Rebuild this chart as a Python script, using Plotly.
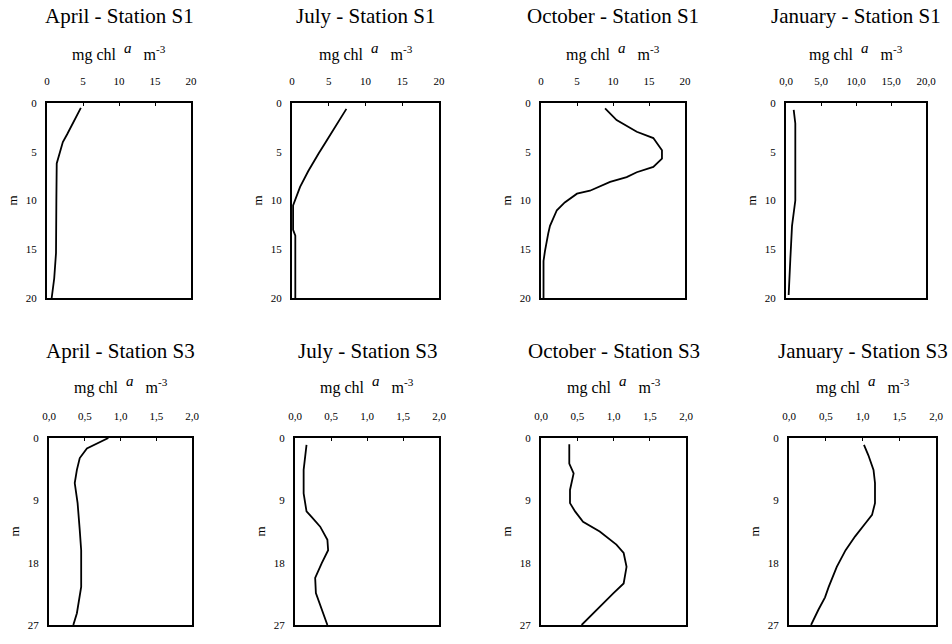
import plotly.graph_objects as go

# ---------------- data ----------------
titles = ["April - Station S1", "July - Station S1", "October - Station S1", "January - Station S1",
          "April - Station S3", "July - Station S3", "October - Station S3", "January - Station S3"]

depth_apr_s1 = [0.5, 2.0, 3.2, 4.0, 5.5, 6.2, 10.0, 15.4, 18.0, 20.0]
chl_apr_s1 = [4.7, 3.7, 2.8, 2.2, 1.6, 1.35, 1.3, 1.25, 1.0, 0.65]

depth_jul_s1 = [0.6, 2.0, 4.0, 5.2, 7.0, 8.6, 9.5, 10.5, 13.0, 13.6, 20.0]
chl_jul_s1 = [7.4, 6.2, 4.6, 3.6, 2.2, 1.1, 0.6, 0.15, 0.15, 0.45, 0.45]

depth_oct_s1 = [0.55, 1.75, 2.95, 3.6, 4.85, 5.7, 6.55, 7.1, 7.6, 8.1, 9.0, 9.3, 10.2, 11.0, 12.6, 13.4, 15.2, 16.2, 20.0]
chl_oct_s1 = [8.9, 10.5, 13.3, 15.6, 16.8, 16.8, 15.6, 13.3, 11.9, 9.6, 6.8, 5.0, 3.3, 2.2, 1.25, 1.0, 0.55, 0.35, 0.35]

depth_jan_s1 = [0.7, 2.1, 10.0, 12.6, 16.0, 19.7]
chl_jan_s1 = [1.1, 1.33, 1.33, 0.86, 0.62, 0.38]

depth_apr_s3 = [0.0, 0.4, 1.0, 1.5, 2.9, 4.6, 6.5, 9.4, 13.3, 16.2, 21.5, 25.3, 27.0]
chl_apr_s3 = [0.83, 0.75, 0.62, 0.53, 0.43, 0.39, 0.36, 0.40, 0.43, 0.45, 0.45, 0.39, 0.34]

depth_jul_s3 = [1.0, 2.7, 4.6, 8.0, 10.6, 11.4, 12.8, 14.7, 16.2, 18.1, 20.2, 22.4, 24.8, 27.0]
chl_jul_s3 = [0.16, 0.14, 0.12, 0.12, 0.16, 0.23, 0.35, 0.45, 0.46, 0.37, 0.28, 0.29, 0.37, 0.45]

depth_oct_s3 = [0.9, 3.7, 5.1, 7.5, 9.4, 10.6, 12.1, 13.5, 15.4, 16.6, 18.6, 21.0, 22.4, 24.8, 27.0]
chl_oct_s3 = [0.39, 0.39, 0.45, 0.40, 0.40, 0.47, 0.58, 0.81, 1.04, 1.14, 1.18, 1.14, 1.0, 0.77, 0.56]

depth_jan_s3 = [1.0, 2.5, 4.6, 6.5, 9.4, 11.1, 12.3, 14.2, 16.2, 18.6, 21.5, 23.0, 24.8, 27.0]
chl_jan_s3 = [1.02, 1.08, 1.15, 1.17, 1.17, 1.13, 1.04, 0.90, 0.77, 0.65, 0.54, 0.49, 0.40, 0.30]

x_ticks_s1 = [0, 5, 10, 15, 20]
x_ticktext_s1 = ["0", "5", "10", "15", "20"]
x_ticktext_jan_s1 = ["0,0", "5,0", "10,0", "15,0", "20,0"]
x_ticks_s3 = [0, 0.5, 1.0, 1.5, 2.0]
x_ticktext_s3 = ["0,0", "0,5", "1,0", "1,5", "2,0"]
y_ticks_s1 = [0, 5, 10, 15, 20]
y_ticks_s3 = [0, 9, 18, 27]

series = [
    (chl_apr_s1, depth_apr_s1), (chl_jul_s1, depth_jul_s1), (chl_oct_s1, depth_oct_s1), (chl_jan_s1, depth_jan_s1),
    (chl_apr_s3, depth_apr_s3), (chl_jul_s3, depth_jul_s3), (chl_oct_s3, depth_oct_s3), (chl_jan_s3, depth_jan_s3),
]

# ---------------- layout geometry (pixels) ----------------
W, H = 952, 644
boxes_x = [(47, 191), (292, 439), (541, 685), (786, 926),
           (49, 192), (295, 439), (541, 686), (789, 936)]
row_y = [(103, 298), (438, 625)]

FONT = "Liberation Serif, Times New Roman, serif"
fig = go.Figure()
layout = dict(width=W, height=H, margin=dict(l=0, r=0, t=0, b=0, autoexpand=False),
              paper_bgcolor="white", plot_bgcolor="white", showlegend=False,
              font=dict(family=FONT, color="black"))
annotations = []

for i in range(8):
    n = i + 1
    xs = "" if n == 1 else str(n)
    row = 0 if i < 4 else 1
    x0, x1 = boxes_x[i]
    y0, y1 = row_y[row]
    xd = [x0 / W, x1 / W]
    yd = [1 - y1 / H, 1 - y0 / H]
    chl, dep = series[i]
    fig.add_trace(go.Scatter(x=chl, y=dep, mode="lines",
                             line=dict(color="black", width=1.8),
                             xaxis="x" + xs, yaxis="y" + xs, hoverinfo="skip"))
    if row == 0:
        xr, xt = [0, 20], x_ticks_s1
        xtt = x_ticktext_jan_s1 if i == 3 else x_ticktext_s1
        yr, yt = [20, 0], y_ticks_s1
    else:
        xr, xt, xtt = [0, 2], x_ticks_s3, x_ticktext_s3
        yr, yt = [27, 0], y_ticks_s3
    layout["xaxis" + xs] = dict(domain=xd, anchor="y" + xs, range=xr, side="top", automargin=False,
                                tickvals=xt, ticktext=xtt, showgrid=False, zeroline=False,
                                showline=True, mirror=True, linecolor="black", linewidth=2,
                                ticks="inside", ticklen=3, tickcolor="black", tickwidth=1,
                                ticklabelstandoff=12,
                                tickfont=dict(family=FONT, size=11, color="black"))
    layout["yaxis" + xs] = dict(domain=yd, anchor="x" + xs, range=yr, automargin=False,
                                tickvals=yt, ticktext=[str(v) for v in yt],
                                showgrid=False, zeroline=False,
                                showline=True, mirror=True, linecolor="black", linewidth=2,
                                ticks="", ticklabelstandoff=6,
                                tickfont=dict(family=FONT, size=11, color="black"))
    cx = (x0 + x1) / 2 / W
    title_y = 16 if row == 0 else 351
    label_y = 52 if row == 0 else 385
    annotations.append(dict(text=titles[i], x=cx, y=1 - title_y / H, xref="paper", yref="paper",
                            showarrow=False, xanchor="center", yanchor="middle",
                            font=dict(family=FONT, size=21, color="black")))
    annotations.append(dict(text="mg chl  <sup><span style='font-size:15px'><i>a</i></span></sup>   m<sup>-3</sup>",
                            x=cx, y=1 - label_y / H,
                            xref="paper", yref="paper", showarrow=False,
                            xanchor="center", yanchor="middle",
                            font=dict(family=FONT, size=16, color="black")))
    annotations.append(dict(text="m", x=(x0 - 35) / W, y=1 - (y0 + y1) / 2 / H,
                            xref="paper", yref="paper", showarrow=False, textangle=-90,
                            xanchor="center", yanchor="middle",
                            font=dict(family=FONT, size=13, color="black")))

layout["annotations"] = annotations
fig.update_layout(**layout)
fig.write_html("out.html", config={"displayModeBar": False},
               post_script="document.body.style.margin='0';")
